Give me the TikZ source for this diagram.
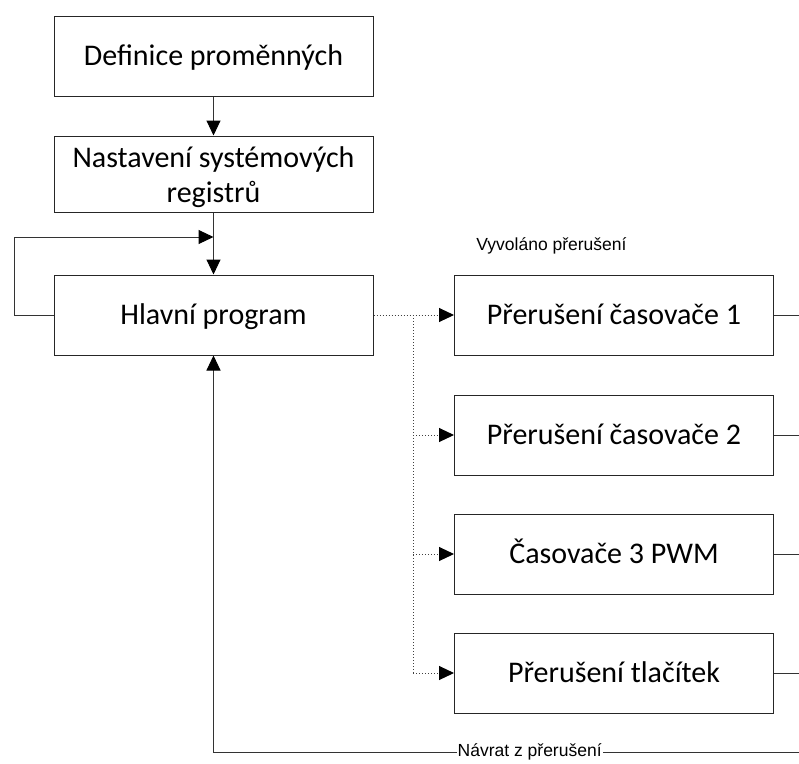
\documentclass[tikz,border=0pt]{standalone}
\usepackage{fontspec}
\setmainfont{Carlito}
\newfontfamily\labelfont{Liberation Sans}
\usetikzlibrary{arrows.meta}

\tikzset{
  flowbox/.style={draw=black!85, line width=1pt, fill=white, minimum width=319pt,
    minimum height=80pt, inner sep=0pt, align=center,
    text height=19.5pt, text depth=0pt,
    font=\fontsize{30}{35}\selectfont},
  flowline/.style={draw=black!80, line width=1pt},
  tip/.style={-{Triangle[length=15pt,width=14pt,color=black]}},
  irqline/.style={draw=black!75, line width=1pt, dotted},
  smalltext/.style={font=\labelfont\fontsize{17.5}{20}\selectfont, inner sep=0pt}
}

\begin{document}
\begin{tikzpicture}[x=1pt, y=-1pt]
  \useasboundingbox (0,0) rectangle (799,763);

  % main sequence
  \node[flowbox] (def) at (213.5,56) {Definice proměnných};
  \node[flowbox, minimum height=76pt, text height=56pt] (nast) at (213.5,174) {Nastavení systémových\\registrů};
  \node[flowbox] (main) at (213.5,315) {Hlavní program};

  % interrupt handlers
  \node[flowbox] (t1) at (614,315) {Přerušení časovače 1};
  \node[flowbox] (t2) at (614,435) {Přerušení časovače 2};
  \node[flowbox] (t3) at (614,554) {Časovače 3 PWM};
  \node[flowbox] (btn) at (614,673) {Přerušení tlačítek};

  \node[smalltext] (vyv) at (551.5,246) {Vyvoláno přerušení};

  % helper points
  \coordinate (loopin) at (213.5,237);
  \coordinate (loopl) at (14,315);
  \coordinate (loopt) at (14,237);
  \coordinate (branch) at (413,315);
  \coordinate (b2) at (413,435);
  \coordinate (b3) at (413,554);
  \coordinate (b4) at (413,673);
  \coordinate (o1) at (799,315);
  \coordinate (o2) at (799,435);
  \coordinate (o3) at (799,554);
  \coordinate (o4) at (799,673);
  \coordinate (retr) at (799,752);
  \coordinate (retl) at (213.5,752);

  % sequence arrows
  \draw[flowline, tip] (def.south) -- (nast.north);
  \draw[flowline, tip] (nast.south) -- (main.north);

  % main loop
  \draw[flowline, tip] (main.west) -- (loopl) -- (loopt) -- (loopin);

  % interrupt branches
  \draw[irqline, tip] (main.east) -- (t1.west);
  \draw[irqline] (branch) -- (b4);
  \draw[irqline, tip] (b2) -- (t2.west);
  \draw[irqline, tip] (b3) -- (t3.west);
  \draw[irqline, tip] (b4) -- (btn.west);

  % outputs of handlers
  \draw[flowline] (t1.east) -- (o1);
  \draw[flowline] (t2.east) -- (o2);
  \draw[flowline] (t3.east) -- (o3);
  \draw[flowline] (btn.east) -- (o4);

  % return from interrupt
  \draw[flowline, tip] (retr) -- node[smalltext, fill=white, pos=0.46, inner xsep=1pt] (ret) {Návrat z přerušení} (retl) -- (main.south);
\end{tikzpicture}
\end{document}
